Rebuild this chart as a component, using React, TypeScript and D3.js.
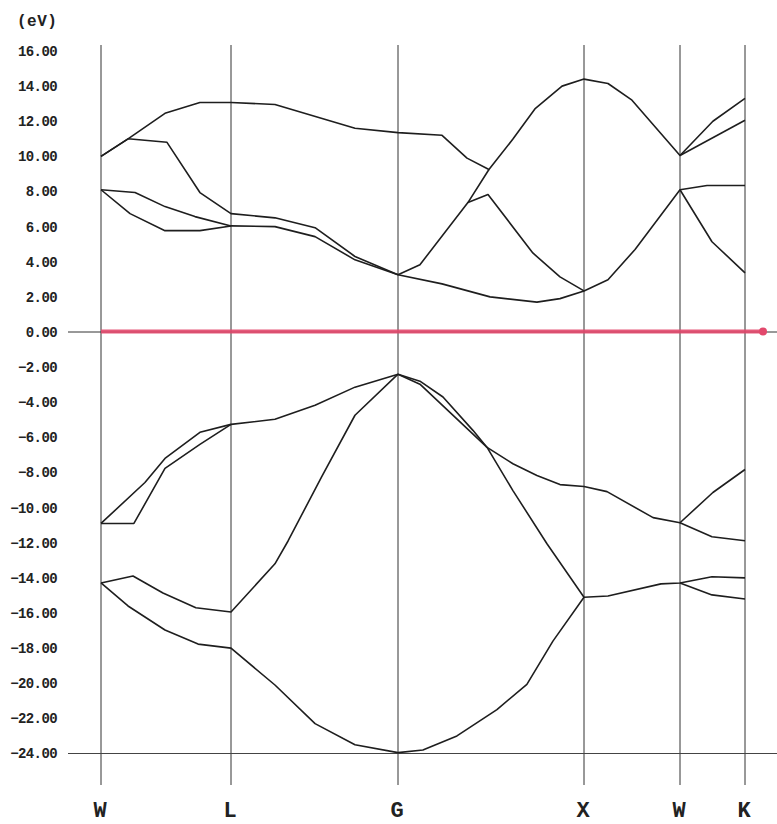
import React from "react";
import * as d3 from "d3";

// k-path high-symmetry points (units of 2π/a)
const kLabels = ["W", "L", "G", "X", "W", "K"];
const kPositions = [0, 0.7071, 1.5731, 2.5731, 3.0731, 3.4267];

// energy ticks (eV)
const yTicks = d3.range(16, -26, -2);

type P = [number, number];

// conduction bands
const bandA: P[] = [[0, 10.0], [0.147, 11.0], [0.348, 12.45], [0.538, 13.07], [0.7071, 13.07], [0.935, 12.95], [1.35, 11.6], [1.5731, 11.35], [1.81, 11.2], [1.944, 9.9], [2.062, 9.25], [2.19, 10.97], [2.309, 12.7], [2.455, 14.0], [2.5731, 14.4], [2.698, 14.15], [2.823, 13.2], [3.0731, 10.05], [3.252, 12.0], [3.4267, 13.3]];
const bandB: P[] = [[0, 10.0], [0.147, 11.0], [0.359, 10.8], [0.538, 7.94], [0.7071, 6.74], [0.935, 6.5], [1.143, 5.94], [1.35, 4.3], [1.5731, 3.26]];
const bandC: P[] = [[0, 8.1], [0.185, 7.94], [0.348, 7.14], [0.511, 6.57], [0.7071, 6.04], [0.935, 6.0], [1.143, 5.43], [1.35, 4.11], [1.5731, 3.26]];
const bandD: P[] = [[0, 8.1], [0.158, 6.74], [0.348, 5.77], [0.538, 5.77], [0.7071, 6.04]];
const bandE: P[] = [[1.5731, 3.26], [1.691, 3.83], [1.949, 7.37], [2.062, 9.25]];
const bandF: P[] = [[1.949, 7.37], [2.057, 7.83], [2.298, 4.5], [2.444, 3.14], [2.5731, 2.34], [2.698, 2.97], [2.839, 4.7], [3.0731, 8.1], [3.22, 8.34], [3.4267, 8.34]];
const bandG: P[] = [[1.5731, 3.26], [1.81, 2.74], [2.068, 2.0], [2.32, 1.7], [2.444, 1.9], [2.5731, 2.34]];
const bandH: P[] = [[3.0731, 10.05], [3.4267, 12.06]];
const bandI: P[] = [[3.0731, 8.1], [3.247, 5.14], [3.4267, 3.37]];

// valence bands
const val1: P[] = [[0, -10.9], [0.239, -8.57], [0.348, -7.2], [0.538, -5.71], [0.7071, -5.26], [0.935, -4.97], [1.143, -4.17], [1.35, -3.14], [1.5731, -2.4]];
const val2: P[] = [[0, -10.9], [0.179, -10.9], [0.348, -7.77], [0.538, -6.4], [0.7071, -5.26]];
const val3: P[] = [[0, -14.29], [0.174, -13.89], [0.337, -14.86], [0.516, -15.7], [0.7071, -15.94], [0.935, -13.2], [1.003, -11.9], [1.179, -8.2], [1.35, -4.74], [1.5731, -2.4]];
const val4: P[] = [[1.5731, -2.4], [1.691, -2.8], [1.815, -3.7], [1.976, -5.6], [2.052, -6.57], [2.191, -7.5], [2.32, -8.17], [2.444, -8.69], [2.5731, -8.8], [2.693, -9.09], [2.933, -10.57], [3.0731, -10.86], [3.252, -9.14], [3.4267, -7.83]];
const val5: P[] = [[1.5731, -2.4], [1.691, -2.97], [2.052, -6.57], [2.191, -9.03], [2.374, -12.06], [2.5731, -15.1], [2.698, -15.03], [2.974, -14.34], [3.0731, -14.29], [3.247, -13.94], [3.4267, -14.0]];
const val6: P[] = [[3.0731, -10.86], [3.247, -11.66], [3.4267, -11.89]];
const val7: P[] = [[3.0731, -14.29], [3.247, -14.97], [3.4267, -15.2]];
const val8: P[] = [[0, -14.29], [0.147, -15.6], [0.348, -16.97], [0.528, -17.77], [0.7071, -18.0], [0.935, -20.1], [1.143, -22.3], [1.35, -23.5], [1.5731, -23.95], [1.707, -23.8], [1.89, -23.0], [2.105, -21.5], [2.266, -20.06], [2.406, -17.6], [2.5731, -15.1]];

const bands = [bandA, bandB, bandC, bandD, bandE, bandF, bandG, bandH, bandI, val1, val2, val3, val4, val5, val6, val7, val8];

export default function App() {
  const W = 777, H = 824;
  const x = d3.scaleLinear().domain(kPositions).range([101, 231, 398, 584, 680, 745]);
  const y = d3.scaleLinear().domain([-24, 16]).range([753.5, 51]);
  const line = d3.line<P>().x((d) => x(d[0])).y((d) => y(d[1]));
  const fmt = d3.format(".2f");
  const mono = "'Liberation Mono', 'DejaVu Sans Mono', monospace";

  return (
    <svg width={W} height={H} style={{ position: "absolute", left: 0, top: 0, background: "#fff" }}>
      <rect width={W} height={H} fill="#fff" />
      {/* vertical k-point lines */}
      {kPositions.map((k, i) => (
        <line key={"v" + i} x1={x(k)} x2={x(k)} y1={45} y2={785} stroke="#333" strokeWidth={1} />
      ))}
      {/* horizontal lines */}
      <line x1={68} x2={W} y1={y(0)} y2={y(0)} stroke="#333" strokeWidth={1} />
      <line x1={68} x2={W} y1={y(-24)} y2={y(-24)} stroke="#444" strokeWidth={1} />
      {/* Fermi level (red) */}
      <line x1={x(0)} x2={763} y1={y(0) - 0.5} y2={y(0) - 0.5} stroke="#e2486c" strokeWidth={4} strokeOpacity={0.9} />
      <circle cx={763} cy={y(0) - 0.5} r={4} fill="#e2486c" />
      {/* bands */}
      {bands.map((b, i) => (
        <path key={"b" + i} d={line(b) || ""} fill="none" stroke="#1e1e1e" strokeWidth={1.6} strokeLinejoin="round" />
      ))}
      {/* y tick labels */}
      {yTicks.map((t) => (
        <text key={"t" + t} x={57} y={y(t)} dy="0.35em" textAnchor="end" fontFamily={mono} fontWeight="bold" fontSize={14} letterSpacing={-0.6} fill="#222">
          {fmt(t)}
        </text>
      ))}
      <text x={17} y={20} dy="0.35em" fontFamily={mono} fontWeight="bold" fontSize={16} letterSpacing={0.5} fill="#222">
        (eV)
      </text>
      {/* k labels */}
      {kLabels.map((l, i) => (
        <text key={"k" + i} x={x(kPositions[i]) - 1} y={809} dy="0.35em" textAnchor="middle" fontFamily={mono} fontWeight="bold" fontSize={22} fill="#222">
          {l}
        </text>
      ))}
    </svg>
  );
}
